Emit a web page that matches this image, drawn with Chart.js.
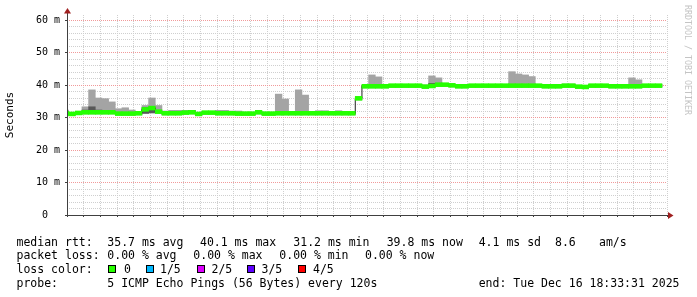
<!DOCTYPE html>
<html>
<head>
<meta charset="utf-8">
<script src="https://cdn.jsdelivr.net/npm/chart.js@4.4.1/dist/chart.umd.min.js"></script>
<style>
  html, body { margin: 0; padding: 0; background: #fff; }
  canvas { display: block; }
</style>
</head>
<body>
<canvas id="smokeChart" width="697" height="297"></canvas>
<script>
// janela do grafico
const rangeStart = "15:33:31";
const rangeEnd = "18:33:31";

// fim de cada passo de 120s
const sampleEnd = [
  "15:34", "15:36", "15:38", "15:40", "15:42", "15:44", "15:46", "15:48", "15:50", "15:52",
  "15:54", "15:56", "15:58", "16:00", "16:02", "16:04", "16:06", "16:08", "16:10", "16:12",
  "16:14", "16:16", "16:18", "16:20", "16:22", "16:24", "16:26", "16:28", "16:30", "16:32",
  "16:34", "16:36", "16:38", "16:40", "16:42", "16:44", "16:46", "16:48", "16:50", "16:52",
  "16:54", "16:56", "16:58", "17:00", "17:02", "17:04", "17:06", "17:08", "17:10", "17:12",
  "17:14", "17:16", "17:18", "17:20", "17:22", "17:24", "17:26", "17:28", "17:30", "17:32",
  "17:34", "17:36", "17:38", "17:40", "17:42", "17:44", "17:46", "17:48", "17:50", "17:52",
  "17:54", "17:56", "17:58", "18:00", "18:02", "18:04", "18:06", "18:08", "18:10", "18:12",
  "18:14", "18:16", "18:18", "18:20", "18:22", "18:24", "18:26", "18:28", "18:30", "18:32",
];

// rtt em ms
const median = [
  31.3, 31.1, 31.4, 31.6, 31.6, 31.6, 31.6, 31.6, 31.2, 31.2,
  31.2, 31.3, 32.5, 32.9, 31.8, 31.3, 31.3, 31.3, 31.5, 31.6,
  31.1, 31.5, 31.5, 31.3, 31.3, 31.3, 31.2, 31.2, 31.2, 31.6,
  31.2, 31.2, 31.3, 31.3, 31.3, 31.3, 31.3, 31.3, 31.3, 31.3,
  31.3, 31.3, 31.3, 31.3, 35.9, 39.6, 39.6, 39.6, 39.6, 39.8,
  39.8, 39.8, 39.8, 39.8, 39.5, 39.7, 40.1, 40.1, 39.9, 39.6,
  39.6, 39.8, 39.8, 39.8, 39.8, 39.8, 39.8, 39.8, 39.8, 39.8,
  39.8, 39.8, 39.6, 39.6, 39.6, 39.8, 39.8, 39.5, 39.4, 39.8,
  39.8, 39.8, 39.6, 39.6, 39.6, 39.6, 39.6, 39.8, 39.8, 39.8,
];
const pingMin = [
  30.8, 30.6, 30.9, 31.1, 31.1, 31.1, 31.1, 31.1, 30.7, 30.7,
  30.7, 30.8, 31.2, 31.3, 31.3, 30.8, 30.8, 30.8, 31.0, 31.1,
  30.6, 31.0, 31.0, 30.8, 30.8, 30.8, 30.7, 30.7, 30.7, 31.1,
  30.7, 30.7, 30.8, 30.8, 30.8, 30.8, 30.8, 30.8, 30.8, 30.8,
  30.8, 30.8, 30.8, 30.8, 35.4, 39.1, 39.1, 39.1, 39.1, 39.3,
  39.3, 39.3, 39.3, 39.3, 39.0, 39.2, 39.6, 39.6, 39.4, 39.1,
  39.1, 39.3, 39.3, 39.3, 39.3, 39.3, 39.3, 39.3, 39.3, 39.3,
  39.3, 39.3, 39.1, 39.1, 39.1, 39.3, 39.3, 39.0, 38.9, 39.3,
  39.3, 39.3, 39.1, 39.1, 39.1, 39.1, 39.1, 39.3, 39.3, 39.3,
];
const ping2 = [
  31.0, 30.8, 31.1, 31.3, 31.3, 31.3, 31.3, 31.3, 30.9, 30.9,
  30.9, 31.0, 31.3, 31.5, 31.5, 31.0, 31.0, 31.0, 31.2, 31.3,
  30.8, 31.2, 31.2, 31.0, 31.0, 31.0, 30.9, 30.9, 30.9, 31.3,
  30.9, 30.9, 31.0, 31.0, 31.0, 31.0, 31.0, 31.0, 31.0, 31.0,
  31.0, 31.0, 31.0, 31.0, 35.6, 39.3, 39.3, 39.3, 39.3, 39.5,
  39.5, 39.5, 39.5, 39.5, 39.2, 39.4, 39.8, 39.8, 39.6, 39.3,
  39.3, 39.5, 39.5, 39.5, 39.5, 39.5, 39.5, 39.5, 39.5, 39.5,
  39.5, 39.5, 39.3, 39.3, 39.3, 39.5, 39.5, 39.2, 39.1, 39.5,
  39.5, 39.5, 39.3, 39.3, 39.3, 39.3, 39.3, 39.5, 39.5, 39.5,
];
const ping4 = [
  31.6, 31.4, 31.6, 32.3, 33.3, 32.3, 32.0, 31.9, 31.5, 31.5,
  31.5, 31.6, 33.0, 33.2, 32.1, 31.6, 31.6, 31.6, 31.8, 32.2,
  31.4, 31.8, 31.8, 31.6, 31.6, 31.6, 31.5, 31.5, 31.5, 31.9,
  31.5, 31.5, 31.6, 31.6, 31.6, 31.6, 31.6, 31.6, 31.6, 31.6,
  31.6, 31.6, 31.6, 31.6, 36.1, 39.9, 39.9, 39.9, 39.9, 40.1,
  40.1, 40.1, 40.1, 40.1, 39.8, 40.5, 40.3, 40.3, 40.1, 39.9,
  39.9, 40.1, 40.1, 40.1, 40.1, 40.1, 40.1, 40.1, 40.1, 40.1,
  40.1, 40.1, 39.9, 39.9, 39.9, 40.1, 40.1, 39.8, 39.7, 40.1,
  40.1, 40.1, 39.9, 39.9, 39.9, 39.9, 39.9, 40.1, 40.1, 40.1,
];
const pingMax = [
  32.3, 31.6, 31.7, 33.3, 38.5, 36.0, 35.8, 34.8, 32.7, 33.0,
  32.3, 31.8, 33.7, 36.0, 33.7, 32.0, 32.2, 32.2, 32.2, 32.2,
  31.5, 31.9, 31.9, 32.2, 32.2, 32.0, 32.0, 31.6, 31.6, 31.9,
  31.6, 31.6, 37.2, 35.7, 31.7, 38.5, 36.9, 31.7, 32.1, 32.1,
  31.7, 32.1, 31.7, 31.7, 36.3, 40.0, 43.1, 42.5, 40.0, 40.2,
  40.2, 40.2, 40.2, 40.2, 40.0, 42.8, 42.2, 40.4, 40.3, 40.0,
  40.0, 40.2, 40.2, 40.2, 40.2, 40.2, 40.2, 44.1, 43.4, 43.1,
  42.6, 40.2, 40.0, 40.0, 40.0, 40.3, 40.3, 39.9, 39.8, 40.2,
  40.2, 40.2, 40.0, 40.0, 40.0, 42.2, 41.6, 40.2, 40.2, 40.2,
];

const xTickLabels = ["15:40", "16:00", "16:20", "16:40", "17:00", "17:20", "17:40", "18:00", "18:20"];
const yTickLabels = ["0", "10 m", "20 m", "30 m", "40 m", "50 m", "60 m"];

const lossLabels = ["0", "1/5", "2/5", "3/5", "4/5"];
const lossColors = ["#26ff00", "#00b8ff", "#dd00ff", "#5e00ff", "#ff0000"];

const rttAvg = "35.7", rttMax = "40.1", rttMin = "31.2", rttNow = "39.8", rttSd = "4.1", rttAmS = "8.6";
const lossAvg = "0.00", lossMax = "0.00", lossMin = "0.00", lossNow = "0.00";
const probeText = "5 ICMP Echo Pings (56 Bytes) every 120s";
const endText = "end: Tue Dec 16 18:33:31 2025";
const watermark = "RRDTOOL / TOBI OETIKER";

const MONO = "'DejaVu Sans Mono', monospace";
const BAND = 0.6; // meia largura da faixa verde (ms)

function toMin(hms) {
  const p = hms.split(":").map(Number);
  return p[0] * 60 + p[1] + (p[2] || 0) / 60;
}

// cada passo cobre os 2 minutos antes do seu fim
const centers = sampleEnd.map((t) => toMin(t) - 1);
const outerSmoke = centers.map((x, i) => ({ x, y: [pingMin[i], pingMax[i]] }));
const innerSmoke = centers.map((x, i) => ({ x, y: [ping2[i], ping4[i]] }));
const medianBand = centers.map((x, i) => ({ x, y: [median[i] - BAND, median[i] + BAND] }));
const medianLine = centers.map((x, i) => ({ x, y: median[i] }));

const xMin = toMin(rangeStart);
const xMax = toMin(rangeEnd);

const minorGrid = "#cfcfcf";
const majorGrid = "#f19a9a";
const axisColor = "#404040";

const decorations = {
  id: "decorations",
  afterDraw(chart) {
    const { ctx, chartArea: a } = chart;
    ctx.save();

    // eixos
    ctx.strokeStyle = axisColor;
    ctx.lineWidth = 1;
    ctx.beginPath();
    ctx.moveTo(a.left - 2, a.bottom + 0.5);
    ctx.lineTo(a.right + 3, a.bottom + 0.5);
    ctx.moveTo(a.left + 0.5, a.bottom + 2);
    ctx.lineTo(a.left + 0.5, a.top - 4);
    ctx.stroke();

    // setas
    ctx.fillStyle = "#a02020";
    ctx.beginPath();
    ctx.moveTo(a.left + 0.5, a.top - 7);
    ctx.lineTo(a.left - 3, a.top - 1.5);
    ctx.lineTo(a.left + 4, a.top - 1.5);
    ctx.closePath();
    ctx.fill();
    ctx.beginPath();
    ctx.moveTo(a.right + 6.5, a.bottom + 0.5);
    ctx.lineTo(a.right + 1, a.bottom - 3);
    ctx.lineTo(a.right + 1, a.bottom + 4);
    ctx.closePath();
    ctx.fill();

    // marca d'agua
    ctx.save();
    ctx.translate(chart.width - 9.5, 5);
    ctx.rotate(Math.PI / 2);
    ctx.font = "8.3px " + MONO;
    ctx.fillStyle = "#c4c4c4";
    ctx.textBaseline = "middle";
    ctx.textAlign = "left";
    ctx.fillText(watermark, 0, 0);
    ctx.restore();

    // legenda
    ctx.font = "11.5px " + MONO;
    ctx.fillStyle = "#000";
    ctx.textBaseline = "alphabetic";
    ctx.textAlign = "left";
    const rows = [
      [245.5, [[16.5, "median rtt:"], [107.3, rttAvg + " ms avg"], [200, rttMax + " ms max"],
               [293.3, rttMin + " ms min"], [386.7, rttNow + " ms now"], [478.7, rttSd + " ms sd"],
               [555, rttAmS], [599, "am/s"]]],
      [259.4, [[16.5, "packet loss:"], [107.3, lossAvg + " % avg"], [193.3, lossMax + " % max"],
               [279.3, lossMin + " % min"], [365, lossNow + " % now"]]],
      [273.3, [[16.5, "loss color:"]]],
      [287.2, [[16.5, "probe:"], [107.3, probeText], [478.7, endText]]],
    ];
    rows.forEach(([y, parts]) => parts.forEach(([x, t]) => ctx.fillText(t, x, y)));

    const boxX = [108, 146, 197, 247, 298];
    const textX = [124, 160, 211.5, 261.5, 313];
    lossLabels.forEach((lbl, i) => {
      ctx.fillStyle = lossColors[i];
      ctx.fillRect(boxX[i], 265, 8, 8);
      ctx.strokeStyle = "#000";
      ctx.strokeRect(boxX[i] + 0.5, 265.5, 7, 7);
      ctx.fillStyle = "#000";
      ctx.fillText(lbl, textX[i], 273.3);
    });

    ctx.restore();
  },
};

function buildChart() {
  const ctx = document.getElementById("smokeChart").getContext("2d");

  new Chart(ctx, {
    type: "bar",
    data: {
      datasets: [
        {
          label: "ping 1-5",
          data: outerSmoke,
          backgroundColor: "#a4a4a4",
          borderWidth: 0,
          grouped: false,
          barPercentage: 1,
          categoryPercentage: 1,
          order: 5,
        },
        {
          label: "ping 2-4",
          data: innerSmoke,
          backgroundColor: "#585858",
          borderWidth: 0,
          grouped: false,
          barPercentage: 1,
          categoryPercentage: 1,
          order: 4,
        },
        {
          type: "line",
          label: "median",
          data: medianLine,
          borderColor: "#202020",
          backgroundColor: "#202020",
          borderWidth: 1,
          pointRadius: 0,
          stepped: "middle",
          order: 3,
        },
        {
          label: "loss 0",
          data: medianBand,
          backgroundColor: lossColors[0],
          borderWidth: 0,
          grouped: false,
          barPercentage: 1,
          categoryPercentage: 1,
          order: 1,
        },
      ],
    },
    options: {
      responsive: false,
      animation: false,
      devicePixelRatio: 1,
      layout: { padding: { top: 15, right: 30, left: 0, bottom: 0 } },
      plugins: {
        legend: { display: false },
        tooltip: { enabled: false },
      },
      scales: {
        x: {
          type: "linear",
          position: "bottom",
          weight: 1,
          min: xMin,
          max: xMax,
          offset: false,
          afterFit: (s) => { s.height = 82; },
          grid: {
            offset: false,
            color: majorGrid,
            tickColor: axisColor,
            tickLength: 2,
          },
          border: { display: false, dash: [1, 1] },
          ticks: {
            stepSize: 20,
            includeBounds: false,
            autoSkip: false,
            maxRotation: 0,
            padding: 2,
            color: "#000",
            font: { family: MONO, size: 10 },
            callback: (v) => xTickLabels.find((l) => Math.abs(toMin(l) - v) < 0.01) || "",
          },
        },
        xMinor: {
          axis: "x",
          type: "linear",
          position: "bottom",
          weight: 0,
          min: xMin,
          max: xMax,
          offset: false,
          afterFit: (s) => { s.height = 0; },
          grid: {
            offset: false,
            color: (c) => (c.tick && Math.round(c.tick.value) % 20 === 0 ? "rgba(0,0,0,0)" : minorGrid),
            tickColor: axisColor,
            tickLength: 2,
          },
          border: { display: false, dash: [1, 1] },
          ticks: { stepSize: 5, includeBounds: false, autoSkip: false, display: false },
        },
        y: {
          type: "linear",
          position: "left",
          weight: 1,
          min: 0,
          max: 61.54,
          afterFit: (s) => { s.width = 67; },
          grid: { color: majorGrid, tickColor: axisColor, tickLength: 2 },
          border: { display: false, dash: [1, 1] },
          title: {
            display: true,
            text: "Seconds",
            color: "#000",
            font: { family: MONO, size: 11 },
            padding: { top: 4, bottom: 0 },
          },
          ticks: {
            stepSize: 10,
            includeBounds: false,
            autoSkip: false,
            padding: 5,
            color: "#000",
            font: { family: MONO, size: 10 },
            callback: (v, i) => (v === 0 ? yTickLabels[0] + "  " : yTickLabels[i]),
          },
        },
        yMinor: {
          axis: "y",
          type: "linear",
          position: "left",
          weight: 0,
          min: 0,
          max: 61.54,
          afterFit: (s) => { s.width = 0; },
          grid: {
            color: (c) => (c.tick && Math.round(c.tick.value) % 10 === 0 ? "rgba(0,0,0,0)" : minorGrid),
            drawTicks: false,
          },
          border: { display: false, dash: [1, 1] },
          ticks: { stepSize: 2, includeBounds: false, autoSkip: false, display: false },
        },
      },
    },
    plugins: [decorations],
  });
}

document.addEventListener("DOMContentLoaded", () => {
  buildChart();
});
</script>
</body>
</html>
